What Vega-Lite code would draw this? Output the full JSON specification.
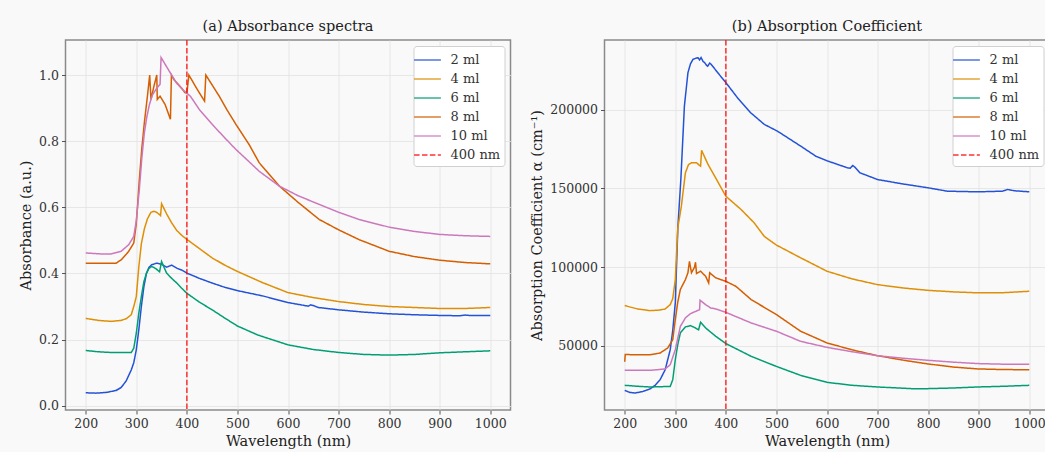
{
  "$schema": "https://vega.github.io/schema/vega-lite/v6.json",
  "background": "#f9f9f9",
  "padding": {"left": 17.5, "top": 18, "right": 0, "bottom": 5},
  "config": {
    "font": "DejaVu Serif",
    "view": {"stroke": "#8a8a8a", "strokeWidth": 1.5, "fill": "#f9f9f9"},
    "axis": {"labelFont": "DejaVu Serif", "titleFont": "DejaVu Serif", "labelFontSize": 12.5, "titleFontSize": 14.5, "titleFontWeight": "normal", "labelColor": "#333333", "titleColor": "#222222", "tickColor": "#555555", "gridColor": "#e2e2e2", "gridWidth": 0.8, "domain": false, "tickSize": 4, "labelPadding": 3, "titlePadding": 5},
    "title": {"font": "DejaVu Serif", "fontSize": 14.5, "fontWeight": "normal", "color": "#222222", "offset": 5},
    "legend": {"orient": "top-right", "offset": 6, "fillColor": "#ffffff", "strokeColor": "#d0d0d0", "cornerRadius": 3, "padding": 4, "labelFont": "DejaVu Serif", "labelFontSize": 13, "labelColor": "#333333", "symbolType": "M-1.45,0H1.45", "symbolStrokeWidth": 1.5, "symbolSize": 342, "rowPadding": 2, "labelOffset": 13}
  },
  "datasets": {
    "absorbance": [
      {"series": "2 ml", "nm": 200, "v": 0.039}, {"series": "2 ml", "nm": 220, "v": 0.038}, {"series": "2 ml", "nm": 240, "v": 0.040}, {"series": "2 ml", "nm": 260, "v": 0.046}, {"series": "2 ml", "nm": 270, "v": 0.055}, {"series": "2 ml", "nm": 280, "v": 0.075}, {"series": "2 ml", "nm": 290, "v": 0.108}, {"series": "2 ml", "nm": 295, "v": 0.13}, {"series": "2 ml", "nm": 300, "v": 0.169}, {"series": "2 ml", "nm": 305, "v": 0.23}, {"series": "2 ml", "nm": 310, "v": 0.30}, {"series": "2 ml", "nm": 315, "v": 0.36}, {"series": "2 ml", "nm": 320, "v": 0.40}, {"series": "2 ml", "nm": 325, "v": 0.418}, {"series": "2 ml", "nm": 330, "v": 0.426}, {"series": "2 ml", "nm": 340, "v": 0.431}, {"series": "2 ml", "nm": 350, "v": 0.428}, {"series": "2 ml", "nm": 360, "v": 0.419}, {"series": "2 ml", "nm": 365, "v": 0.422}, {"series": "2 ml", "nm": 370, "v": 0.425}, {"series": "2 ml", "nm": 380, "v": 0.416}, {"series": "2 ml", "nm": 390, "v": 0.41}, {"series": "2 ml", "nm": 400, "v": 0.401}, {"series": "2 ml", "nm": 425, "v": 0.385}, {"series": "2 ml", "nm": 450, "v": 0.371}, {"series": "2 ml", "nm": 475, "v": 0.358}, {"series": "2 ml", "nm": 500, "v": 0.348}, {"series": "2 ml", "nm": 550, "v": 0.332}, {"series": "2 ml", "nm": 600, "v": 0.312}, {"series": "2 ml", "nm": 640, "v": 0.301}, {"series": "2 ml", "nm": 645, "v": 0.305}, {"series": "2 ml", "nm": 650, "v": 0.303}, {"series": "2 ml", "nm": 660, "v": 0.297}, {"series": "2 ml", "nm": 700, "v": 0.290}, {"series": "2 ml", "nm": 750, "v": 0.283}, {"series": "2 ml", "nm": 800, "v": 0.278}, {"series": "2 ml", "nm": 850, "v": 0.275}, {"series": "2 ml", "nm": 900, "v": 0.273}, {"series": "2 ml", "nm": 940, "v": 0.272}, {"series": "2 ml", "nm": 950, "v": 0.274}, {"series": "2 ml", "nm": 960, "v": 0.273}, {"series": "2 ml", "nm": 1000, "v": 0.273},
      {"series": "4 ml", "nm": 200, "v": 0.264}, {"series": "4 ml", "nm": 225, "v": 0.258}, {"series": "4 ml", "nm": 250, "v": 0.255}, {"series": "4 ml", "nm": 270, "v": 0.258}, {"series": "4 ml", "nm": 280, "v": 0.263}, {"series": "4 ml", "nm": 290, "v": 0.275}, {"series": "4 ml", "nm": 295, "v": 0.30}, {"series": "4 ml", "nm": 300, "v": 0.33}, {"series": "4 ml", "nm": 305, "v": 0.42}, {"series": "4 ml", "nm": 310, "v": 0.49}, {"series": "4 ml", "nm": 316, "v": 0.535}, {"series": "4 ml", "nm": 322, "v": 0.565}, {"series": "4 ml", "nm": 329, "v": 0.585}, {"series": "4 ml", "nm": 335, "v": 0.588}, {"series": "4 ml", "nm": 340, "v": 0.585}, {"series": "4 ml", "nm": 346, "v": 0.578}, {"series": "4 ml", "nm": 348, "v": 0.575}, {"series": "4 ml", "nm": 350, "v": 0.611}, {"series": "4 ml", "nm": 360, "v": 0.58}, {"series": "4 ml", "nm": 370, "v": 0.553}, {"series": "4 ml", "nm": 380, "v": 0.53}, {"series": "4 ml", "nm": 390, "v": 0.515}, {"series": "4 ml", "nm": 400, "v": 0.503}, {"series": "4 ml", "nm": 425, "v": 0.475}, {"series": "4 ml", "nm": 450, "v": 0.447}, {"series": "4 ml", "nm": 475, "v": 0.425}, {"series": "4 ml", "nm": 500, "v": 0.406}, {"series": "4 ml", "nm": 550, "v": 0.372}, {"series": "4 ml", "nm": 600, "v": 0.342}, {"series": "4 ml", "nm": 650, "v": 0.327}, {"series": "4 ml", "nm": 700, "v": 0.315}, {"series": "4 ml", "nm": 750, "v": 0.306}, {"series": "4 ml", "nm": 800, "v": 0.300}, {"series": "4 ml", "nm": 850, "v": 0.297}, {"series": "4 ml", "nm": 900, "v": 0.294}, {"series": "4 ml", "nm": 950, "v": 0.294}, {"series": "4 ml", "nm": 1000, "v": 0.297},
      {"series": "6 ml", "nm": 200, "v": 0.167}, {"series": "6 ml", "nm": 225, "v": 0.163}, {"series": "6 ml", "nm": 250, "v": 0.161}, {"series": "6 ml", "nm": 270, "v": 0.161}, {"series": "6 ml", "nm": 290, "v": 0.161}, {"series": "6 ml", "nm": 295, "v": 0.174}, {"series": "6 ml", "nm": 300, "v": 0.219}, {"series": "6 ml", "nm": 305, "v": 0.28}, {"series": "6 ml", "nm": 310, "v": 0.33}, {"series": "6 ml", "nm": 315, "v": 0.375}, {"series": "6 ml", "nm": 320, "v": 0.40}, {"series": "6 ml", "nm": 325, "v": 0.415}, {"series": "6 ml", "nm": 330, "v": 0.421}, {"series": "6 ml", "nm": 335, "v": 0.418}, {"series": "6 ml", "nm": 340, "v": 0.413}, {"series": "6 ml", "nm": 345, "v": 0.406}, {"series": "6 ml", "nm": 346, "v": 0.405}, {"series": "6 ml", "nm": 350, "v": 0.436}, {"series": "6 ml", "nm": 355, "v": 0.418}, {"series": "6 ml", "nm": 360, "v": 0.401}, {"series": "6 ml", "nm": 370, "v": 0.385}, {"series": "6 ml", "nm": 380, "v": 0.371}, {"series": "6 ml", "nm": 390, "v": 0.355}, {"series": "6 ml", "nm": 400, "v": 0.34}, {"series": "6 ml", "nm": 425, "v": 0.313}, {"series": "6 ml", "nm": 450, "v": 0.29}, {"series": "6 ml", "nm": 475, "v": 0.265}, {"series": "6 ml", "nm": 500, "v": 0.241}, {"series": "6 ml", "nm": 540, "v": 0.214}, {"series": "6 ml", "nm": 600, "v": 0.184}, {"series": "6 ml", "nm": 650, "v": 0.170}, {"series": "6 ml", "nm": 700, "v": 0.161}, {"series": "6 ml", "nm": 750, "v": 0.155}, {"series": "6 ml", "nm": 800, "v": 0.153}, {"series": "6 ml", "nm": 850, "v": 0.155}, {"series": "6 ml", "nm": 900, "v": 0.160}, {"series": "6 ml", "nm": 950, "v": 0.163}, {"series": "6 ml", "nm": 1000, "v": 0.166},
      {"series": "8 ml", "nm": 200, "v": 0.431}, {"series": "8 ml", "nm": 260, "v": 0.431}, {"series": "8 ml", "nm": 270, "v": 0.441}, {"series": "8 ml", "nm": 280, "v": 0.458}, {"series": "8 ml", "nm": 285, "v": 0.467}, {"series": "8 ml", "nm": 295, "v": 0.492}, {"series": "8 ml", "nm": 300, "v": 0.55}, {"series": "8 ml", "nm": 306, "v": 0.684}, {"series": "8 ml", "nm": 311, "v": 0.78}, {"series": "8 ml", "nm": 316, "v": 0.857}, {"series": "8 ml", "nm": 322, "v": 0.936}, {"series": "8 ml", "nm": 326.5, "v": 1.0}, {"series": "8 ml", "nm": 329, "v": 0.926}, {"series": "8 ml", "nm": 335, "v": 0.967}, {"series": "8 ml", "nm": 340.5, "v": 1.0}, {"series": "8 ml", "nm": 341.5, "v": 0.926}, {"series": "8 ml", "nm": 347, "v": 0.936}, {"series": "8 ml", "nm": 357, "v": 0.911}, {"series": "8 ml", "nm": 367.5, "v": 0.866}, {"series": "8 ml", "nm": 369.5, "v": 1.0}, {"series": "8 ml", "nm": 375, "v": 0.985}, {"series": "8 ml", "nm": 380, "v": 0.977}, {"series": "8 ml", "nm": 390, "v": 0.96}, {"series": "8 ml", "nm": 396, "v": 0.947}, {"series": "8 ml", "nm": 400, "v": 0.945}, {"series": "8 ml", "nm": 404, "v": 1.0}, {"series": "8 ml", "nm": 420, "v": 0.958}, {"series": "8 ml", "nm": 435, "v": 0.921}, {"series": "8 ml", "nm": 437.5, "v": 1.0}, {"series": "8 ml", "nm": 450, "v": 0.97}, {"series": "8 ml", "nm": 464, "v": 0.936}, {"series": "8 ml", "nm": 480, "v": 0.893}, {"series": "8 ml", "nm": 497, "v": 0.851}, {"series": "8 ml", "nm": 523, "v": 0.79}, {"series": "8 ml", "nm": 543, "v": 0.735}, {"series": "8 ml", "nm": 583, "v": 0.664}, {"series": "8 ml", "nm": 620, "v": 0.615}, {"series": "8 ml", "nm": 662, "v": 0.563}, {"series": "8 ml", "nm": 700, "v": 0.532}, {"series": "8 ml", "nm": 741, "v": 0.502}, {"series": "8 ml", "nm": 800, "v": 0.467}, {"series": "8 ml", "nm": 850, "v": 0.451}, {"series": "8 ml", "nm": 900, "v": 0.44}, {"series": "8 ml", "nm": 950, "v": 0.433}, {"series": "8 ml", "nm": 1000, "v": 0.429},
      {"series": "10 ml", "nm": 200, "v": 0.462}, {"series": "10 ml", "nm": 230, "v": 0.459}, {"series": "10 ml", "nm": 250, "v": 0.459}, {"series": "10 ml", "nm": 270, "v": 0.467}, {"series": "10 ml", "nm": 285, "v": 0.487}, {"series": "10 ml", "nm": 295, "v": 0.512}, {"series": "10 ml", "nm": 300, "v": 0.56}, {"series": "10 ml", "nm": 306, "v": 0.654}, {"series": "10 ml", "nm": 311, "v": 0.75}, {"series": "10 ml", "nm": 316, "v": 0.826}, {"series": "10 ml", "nm": 321, "v": 0.875}, {"series": "10 ml", "nm": 326, "v": 0.911}, {"series": "10 ml", "nm": 332, "v": 0.94}, {"series": "10 ml", "nm": 339, "v": 0.957}, {"series": "10 ml", "nm": 347, "v": 0.972}, {"series": "10 ml", "nm": 349, "v": 1.053}, {"series": "10 ml", "nm": 360, "v": 1.025}, {"series": "10 ml", "nm": 371, "v": 0.997}, {"series": "10 ml", "nm": 380, "v": 0.975}, {"series": "10 ml", "nm": 391, "v": 0.957}, {"series": "10 ml", "nm": 400, "v": 0.945}, {"series": "10 ml", "nm": 407, "v": 0.936}, {"series": "10 ml", "nm": 425, "v": 0.895}, {"series": "10 ml", "nm": 450, "v": 0.851}, {"series": "10 ml", "nm": 475, "v": 0.81}, {"series": "10 ml", "nm": 497, "v": 0.775}, {"series": "10 ml", "nm": 523, "v": 0.738}, {"series": "10 ml", "nm": 543, "v": 0.709}, {"series": "10 ml", "nm": 583, "v": 0.664}, {"series": "10 ml", "nm": 620, "v": 0.635}, {"series": "10 ml", "nm": 655, "v": 0.613}, {"series": "10 ml", "nm": 700, "v": 0.585}, {"series": "10 ml", "nm": 741, "v": 0.563}, {"series": "10 ml", "nm": 800, "v": 0.54}, {"series": "10 ml", "nm": 850, "v": 0.527}, {"series": "10 ml", "nm": 900, "v": 0.518}, {"series": "10 ml", "nm": 950, "v": 0.514}, {"series": "10 ml", "nm": 1000, "v": 0.512}
    ],
    "coefficient": [
      {"series": "2 ml", "nm": 200, "v": 21800}, {"series": "2 ml", "nm": 210, "v": 20500}, {"series": "2 ml", "nm": 220, "v": 20100}, {"series": "2 ml", "nm": 235, "v": 21000}, {"series": "2 ml", "nm": 250, "v": 22700}, {"series": "2 ml", "nm": 260, "v": 25000}, {"series": "2 ml", "nm": 270, "v": 28600}, {"series": "2 ml", "nm": 280, "v": 34900}, {"series": "2 ml", "nm": 290, "v": 47600}, {"series": "2 ml", "nm": 295, "v": 60000}, {"series": "2 ml", "nm": 300, "v": 77300}, {"series": "2 ml", "nm": 305, "v": 125000}, {"series": "2 ml", "nm": 311, "v": 155700}, {"series": "2 ml", "nm": 318, "v": 202200}, {"series": "2 ml", "nm": 325, "v": 223400}, {"series": "2 ml", "nm": 330, "v": 229000}, {"series": "2 ml", "nm": 335, "v": 231900}, {"series": "2 ml", "nm": 340, "v": 232500}, {"series": "2 ml", "nm": 345, "v": 232900}, {"series": "2 ml", "nm": 348, "v": 231500}, {"series": "2 ml", "nm": 351, "v": 233000}, {"series": "2 ml", "nm": 355, "v": 230500}, {"series": "2 ml", "nm": 358, "v": 229800}, {"series": "2 ml", "nm": 362, "v": 228000}, {"series": "2 ml", "nm": 364, "v": 227500}, {"series": "2 ml", "nm": 368, "v": 229500}, {"series": "2 ml", "nm": 371, "v": 228700}, {"series": "2 ml", "nm": 384, "v": 223400}, {"series": "2 ml", "nm": 400, "v": 217100}, {"series": "2 ml", "nm": 423, "v": 207500}, {"series": "2 ml", "nm": 449, "v": 198000}, {"series": "2 ml", "nm": 476, "v": 190600}, {"series": "2 ml", "nm": 502, "v": 186300}, {"series": "2 ml", "nm": 548, "v": 176800}, {"series": "2 ml", "nm": 578, "v": 170400}, {"series": "2 ml", "nm": 600, "v": 167500}, {"series": "2 ml", "nm": 641, "v": 163000}, {"series": "2 ml", "nm": 646, "v": 162800}, {"series": "2 ml", "nm": 651, "v": 164500}, {"series": "2 ml", "nm": 655, "v": 163500}, {"series": "2 ml", "nm": 665, "v": 159900}, {"series": "2 ml", "nm": 700, "v": 155600}, {"series": "2 ml", "nm": 750, "v": 152800}, {"series": "2 ml", "nm": 799, "v": 150400}, {"series": "2 ml", "nm": 838, "v": 148200}, {"series": "2 ml", "nm": 898, "v": 147800}, {"series": "2 ml", "nm": 947, "v": 148200}, {"series": "2 ml", "nm": 957, "v": 149300}, {"series": "2 ml", "nm": 970, "v": 148500}, {"series": "2 ml", "nm": 1000, "v": 147800},
      {"series": "4 ml", "nm": 200, "v": 75600}, {"series": "4 ml", "nm": 225, "v": 73500}, {"series": "4 ml", "nm": 250, "v": 72400}, {"series": "4 ml", "nm": 270, "v": 72800}, {"series": "4 ml", "nm": 280, "v": 73500}, {"series": "4 ml", "nm": 290, "v": 76200}, {"series": "4 ml", "nm": 295, "v": 80000}, {"series": "4 ml", "nm": 300, "v": 92100}, {"series": "4 ml", "nm": 305, "v": 125000}, {"series": "4 ml", "nm": 312, "v": 138700}, {"series": "4 ml", "nm": 320, "v": 159900}, {"series": "4 ml", "nm": 326, "v": 165000}, {"series": "4 ml", "nm": 332, "v": 166300}, {"series": "4 ml", "nm": 342, "v": 166300}, {"series": "4 ml", "nm": 348, "v": 164500}, {"series": "4 ml", "nm": 350, "v": 164100}, {"series": "4 ml", "nm": 352, "v": 174100}, {"series": "4 ml", "nm": 365, "v": 165000}, {"series": "4 ml", "nm": 378, "v": 157700}, {"series": "4 ml", "nm": 400, "v": 145000}, {"series": "4 ml", "nm": 430, "v": 136600}, {"series": "4 ml", "nm": 456, "v": 128100}, {"series": "4 ml", "nm": 476, "v": 119500}, {"series": "4 ml", "nm": 500, "v": 114000}, {"series": "4 ml", "nm": 548, "v": 105900}, {"series": "4 ml", "nm": 600, "v": 97400}, {"series": "4 ml", "nm": 650, "v": 92500}, {"series": "4 ml", "nm": 700, "v": 88900}, {"series": "4 ml", "nm": 750, "v": 86800}, {"series": "4 ml", "nm": 799, "v": 85300}, {"series": "4 ml", "nm": 850, "v": 84300}, {"series": "4 ml", "nm": 898, "v": 83700}, {"series": "4 ml", "nm": 950, "v": 83800}, {"series": "4 ml", "nm": 1000, "v": 84700},
      {"series": "6 ml", "nm": 200, "v": 25000}, {"series": "6 ml", "nm": 225, "v": 24400}, {"series": "6 ml", "nm": 250, "v": 23950}, {"series": "6 ml", "nm": 290, "v": 24300}, {"series": "6 ml", "nm": 295, "v": 28600}, {"series": "6 ml", "nm": 300, "v": 41300}, {"series": "6 ml", "nm": 305, "v": 51000}, {"series": "6 ml", "nm": 310, "v": 58300}, {"series": "6 ml", "nm": 320, "v": 62100}, {"series": "6 ml", "nm": 330, "v": 62900}, {"series": "6 ml", "nm": 340, "v": 61400}, {"series": "6 ml", "nm": 345, "v": 60350}, {"series": "6 ml", "nm": 346, "v": 60200}, {"series": "6 ml", "nm": 350, "v": 65000}, {"series": "6 ml", "nm": 360, "v": 61400}, {"series": "6 ml", "nm": 380, "v": 56100}, {"series": "6 ml", "nm": 400, "v": 51500}, {"series": "6 ml", "nm": 450, "v": 43400}, {"series": "6 ml", "nm": 500, "v": 37000}, {"series": "6 ml", "nm": 548, "v": 31300}, {"series": "6 ml", "nm": 600, "v": 26900}, {"series": "6 ml", "nm": 650, "v": 25000}, {"series": "6 ml", "nm": 700, "v": 23950}, {"series": "6 ml", "nm": 767, "v": 22900}, {"series": "6 ml", "nm": 800, "v": 22900}, {"series": "6 ml", "nm": 850, "v": 23300}, {"series": "6 ml", "nm": 898, "v": 23950}, {"series": "6 ml", "nm": 950, "v": 24400}, {"series": "6 ml", "nm": 1000, "v": 25000},
      {"series": "8 ml", "nm": 200, "v": 40000}, {"series": "8 ml", "nm": 201, "v": 44500}, {"series": "8 ml", "nm": 250, "v": 44400}, {"series": "8 ml", "nm": 270, "v": 45500}, {"series": "8 ml", "nm": 285, "v": 48700}, {"series": "8 ml", "nm": 295, "v": 54000}, {"series": "8 ml", "nm": 300, "v": 66700}, {"series": "8 ml", "nm": 305, "v": 78000}, {"series": "8 ml", "nm": 310, "v": 85800}, {"series": "8 ml", "nm": 320, "v": 92100}, {"series": "8 ml", "nm": 325, "v": 96400}, {"series": "8 ml", "nm": 328, "v": 103700}, {"series": "8 ml", "nm": 332, "v": 96400}, {"series": "8 ml", "nm": 338, "v": 100000}, {"series": "8 ml", "nm": 340, "v": 103100}, {"series": "8 ml", "nm": 342, "v": 95900}, {"series": "8 ml", "nm": 350, "v": 97400}, {"series": "8 ml", "nm": 360, "v": 94200}, {"series": "8 ml", "nm": 366, "v": 90000}, {"series": "8 ml", "nm": 368, "v": 96400}, {"series": "8 ml", "nm": 380, "v": 93200}, {"series": "8 ml", "nm": 400, "v": 91000}, {"series": "8 ml", "nm": 420, "v": 87800}, {"series": "8 ml", "nm": 450, "v": 79400}, {"series": "8 ml", "nm": 500, "v": 69900}, {"series": "8 ml", "nm": 548, "v": 59300}, {"series": "8 ml", "nm": 600, "v": 51900}, {"series": "8 ml", "nm": 650, "v": 47500}, {"series": "8 ml", "nm": 700, "v": 43800}, {"series": "8 ml", "nm": 750, "v": 41000}, {"series": "8 ml", "nm": 799, "v": 38600}, {"series": "8 ml", "nm": 850, "v": 36600}, {"series": "8 ml", "nm": 898, "v": 35400}, {"series": "8 ml", "nm": 950, "v": 35000}, {"series": "8 ml", "nm": 1000, "v": 34900},
      {"series": "10 ml", "nm": 200, "v": 34500}, {"series": "10 ml", "nm": 250, "v": 34500}, {"series": "10 ml", "nm": 280, "v": 35400}, {"series": "10 ml", "nm": 290, "v": 38100}, {"series": "10 ml", "nm": 300, "v": 47600}, {"series": "10 ml", "nm": 305, "v": 55000}, {"series": "10 ml", "nm": 310, "v": 62400}, {"series": "10 ml", "nm": 320, "v": 67800}, {"series": "10 ml", "nm": 330, "v": 70500}, {"series": "10 ml", "nm": 345, "v": 72600}, {"series": "10 ml", "nm": 348, "v": 73000}, {"series": "10 ml", "nm": 349, "v": 79000}, {"series": "10 ml", "nm": 360, "v": 76200}, {"series": "10 ml", "nm": 370, "v": 74100}, {"series": "10 ml", "nm": 380, "v": 73500}, {"series": "10 ml", "nm": 400, "v": 71300}, {"series": "10 ml", "nm": 450, "v": 64600}, {"series": "10 ml", "nm": 500, "v": 59300}, {"series": "10 ml", "nm": 548, "v": 52900}, {"series": "10 ml", "nm": 600, "v": 49100}, {"series": "10 ml", "nm": 650, "v": 46300}, {"series": "10 ml", "nm": 700, "v": 43800}, {"series": "10 ml", "nm": 750, "v": 42200}, {"series": "10 ml", "nm": 799, "v": 40900}, {"series": "10 ml", "nm": 850, "v": 39700}, {"series": "10 ml", "nm": 898, "v": 38800}, {"series": "10 ml", "nm": 950, "v": 38400}, {"series": "10 ml", "nm": 1000, "v": 38300}
    ],
    "marker": [{"series": "400 nm", "nm": 400}]
  },
  "hconcat": [
    {
      "width": 445,
      "height": 370,
      "title": "(a) Absorbance spectra",
      "layer": [
        {
          "data": {"name": "absorbance"},
          "mark": {"type": "line", "strokeWidth": 1.5},
          "encoding": {
            "x": {"field": "nm", "type": "quantitative", "scale": {"domain": [160, 1040], "nice": false, "zero": false}, "axis": {"values": [200, 300, 400, 500, 600, 700, 800, 900, 1000], "format": "d", "title": "Wavelength (nm)"}},
            "y": {"field": "v", "type": "quantitative", "scale": {"domain": [-0.013, 1.106], "nice": false, "zero": false}, "axis": {"values": [0, 0.2, 0.4, 0.6, 0.8, 1.0], "format": ".1f", "title": "Absorbance (a.u.)"}},
            "color": {"field": "series", "type": "nominal", "scale": {"domain": ["2 ml", "4 ml", "6 ml", "8 ml", "10 ml", "400 nm"], "range": ["#2452d6", "#de8f05", "#029e73", "#d55e00", "#cc78bc", "#ff0000"]}, "legend": {"title": null}},
            "strokeDash": {"field": "series", "type": "nominal", "scale": {"domain": ["2 ml", "4 ml", "6 ml", "8 ml", "10 ml", "400 nm"], "range": [[1, 0], [1, 0], [1, 0], [1, 0], [1, 0], [5.5, 2.4]]}, "legend": {"title": null}}
          }
        },
        {
          "data": {"name": "marker"},
          "mark": {"type": "rule", "strokeWidth": 1.5, "opacity": 0.8},
          "encoding": {
            "x": {"field": "nm", "type": "quantitative"},
            "color": {"field": "series", "type": "nominal"},
            "strokeDash": {"field": "series", "type": "nominal"}
          }
        }
      ]
    },
    {
      "width": 445,
      "height": 370,
      "title": "(b) Absorption Coefficient",
      "layer": [
        {
          "data": {"name": "coefficient"},
          "mark": {"type": "line", "strokeWidth": 1.5},
          "encoding": {
            "x": {"field": "nm", "type": "quantitative", "scale": {"domain": [160, 1040], "nice": false, "zero": false}, "axis": {"values": [200, 300, 400, 500, 600, 700, 800, 900, 1000], "format": "d", "title": "Wavelength (nm)"}},
            "y": {"field": "v", "type": "quantitative", "scale": {"domain": [9340, 244155], "nice": false, "zero": false}, "axis": {"values": [50000, 100000, 150000, 200000], "format": "d", "title": "Absorption Coefficient α (cm⁻¹)"}},
            "color": {"field": "series", "type": "nominal", "scale": {"domain": ["2 ml", "4 ml", "6 ml", "8 ml", "10 ml", "400 nm"], "range": ["#2452d6", "#de8f05", "#029e73", "#d55e00", "#cc78bc", "#ff0000"]}, "legend": {"title": null}},
            "strokeDash": {"field": "series", "type": "nominal", "scale": {"domain": ["2 ml", "4 ml", "6 ml", "8 ml", "10 ml", "400 nm"], "range": [[1, 0], [1, 0], [1, 0], [1, 0], [1, 0], [5.5, 2.4]]}, "legend": {"title": null}}
          }
        },
        {
          "data": {"name": "marker"},
          "mark": {"type": "rule", "strokeWidth": 1.5, "opacity": 0.8},
          "encoding": {
            "x": {"field": "nm", "type": "quantitative"},
            "color": {"field": "series", "type": "nominal"},
            "strokeDash": {"field": "series", "type": "nominal"}
          }
        }
      ]
    }
  ],
  "spacing": 17,
  "resolve": {"scale": {"color": "independent", "strokeDash": "independent"}, "legend": {"color": "independent", "strokeDash": "independent"}}
}
